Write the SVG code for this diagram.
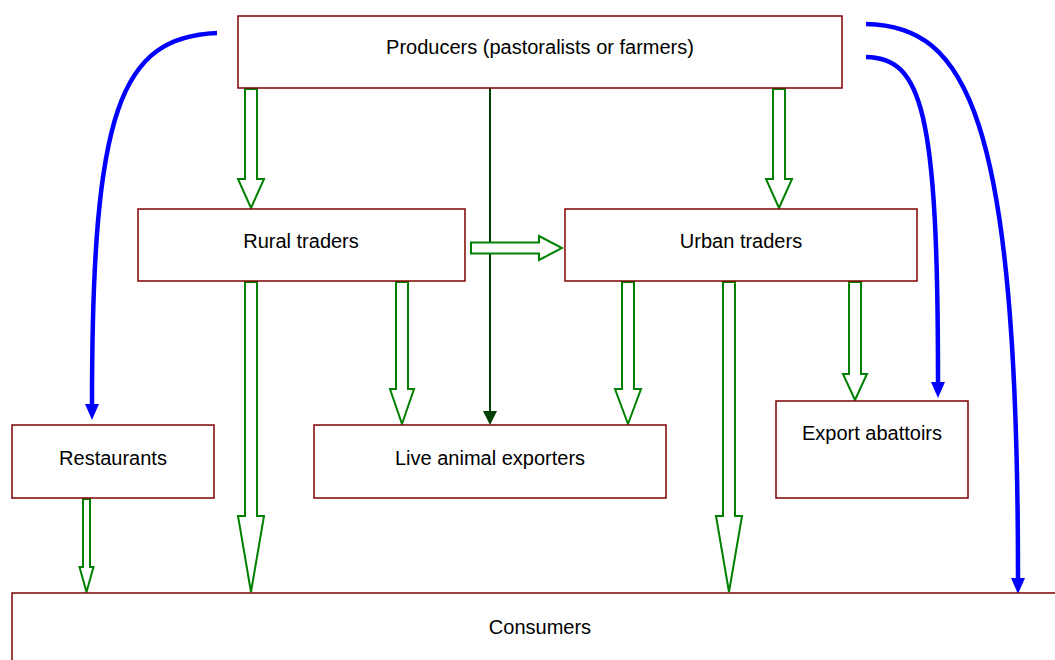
<svg xmlns="http://www.w3.org/2000/svg" width="1055" height="660" viewBox="0 0 1055 660">
<style>
.box{fill:#fff;stroke:#800000;stroke-width:1.5}
.t{font-family:"Liberation Sans",Arial,sans-serif;font-size:20px;fill:#000;text-anchor:middle;dominant-baseline:central}
.ha{fill:#fff;stroke:#008000;stroke-width:2;stroke-linejoin:miter}
.blue{fill:none;stroke:#0000ff;stroke-width:4.5}
.dk{stroke:#004000;stroke-width:2}
</style>
<defs>
<marker id="bh" markerUnits="userSpaceOnUse" markerWidth="16" markerHeight="14" refX="0" refY="7" orient="auto" viewBox="0 0 16 14">
<path d="M0,0 L16,7 L0,14 Z" fill="#0000ff"/>
</marker>
</defs>
<rect width="1055" height="660" fill="#fff"/>
<g id="connectors">
<path class="blue" d="M217,33 C120,37 92,110 92,404" marker-end="url(#bh)"/>
<path class="blue" d="M866,57 C922,58 938,110 938,382" marker-end="url(#bh)"/>
<path class="blue" d="M866,24 C965,26 1018,110 1018,578" marker-end="url(#bh)"/>
<line class="dk" x1="490" y1="88" x2="490" y2="412"/>
<path d="M483,411 L497,411 L490,425 Z" fill="#004000"/>
<path class="ha" d="M245,89 L257,89 L257,179 L264,179 L251,208 L238,179 L245,179 Z"/>
<path class="ha" d="M773,89 L785,89 L785,179 L792,179 L779,208 L766,179 L773,179 Z"/>
<path class="ha" d="M471,242.5 L539,242.5 L539,236 L562,248 L539,260 L539,253.5 L471,253.5 Z"/>
<path class="ha" d="M396,282 L408,282 L408,389 L414,389 L402,424 L390,389 L396,389 Z"/>
<path class="ha" d="M622,282 L634,282 L634,389 L641,389 L628,424 L615,389 L622,389 Z"/>
<path class="ha" d="M245,282 L257,282 L257,516 L264,516 L251,592 L238,516 L245,516 Z"/>
<path class="ha" d="M723,282 L735,282 L735,516 L742,516 L729,592 L716,516 L723,516 Z"/>
<path class="ha" d="M849,282 L861,282 L861,374 L867,374 L855,400 L843,374 L849,374 Z"/>
<path class="ha" d="M83,499 L90,499 L90,567 L93.5,567 L86.5,592 L79.5,567 L83,567 Z"/>
</g>
<g id="producers"><rect class="box" x="238" y="16" width="604" height="72"/><text class="t" x="540" y="47">Producers (pastoralists or farmers)</text></g>
<g id="rural"><rect class="box" x="138" y="209" width="327" height="72"/><text class="t" x="301" y="241">Rural traders</text></g>
<g id="urban"><rect class="box" x="565" y="209" width="352" height="72"/><text class="t" x="741" y="241">Urban traders</text></g>
<g id="restaurants"><rect class="box" x="12" y="425" width="202" height="73"/><text class="t" x="113" y="458">Restaurants</text></g>
<g id="exporters"><rect class="box" x="314" y="425" width="352" height="73"/><text class="t" x="490" y="458">Live animal exporters</text></g>
<g id="abattoirs"><rect class="box" x="776" y="401" width="192" height="97"/><text class="t" x="872" y="433">Export abattoirs</text></g>
<g id="consumers"><rect class="box" x="12" y="593" width="1060" height="80"/><text class="t" x="540" y="627">Consumers</text></g>
</svg>
